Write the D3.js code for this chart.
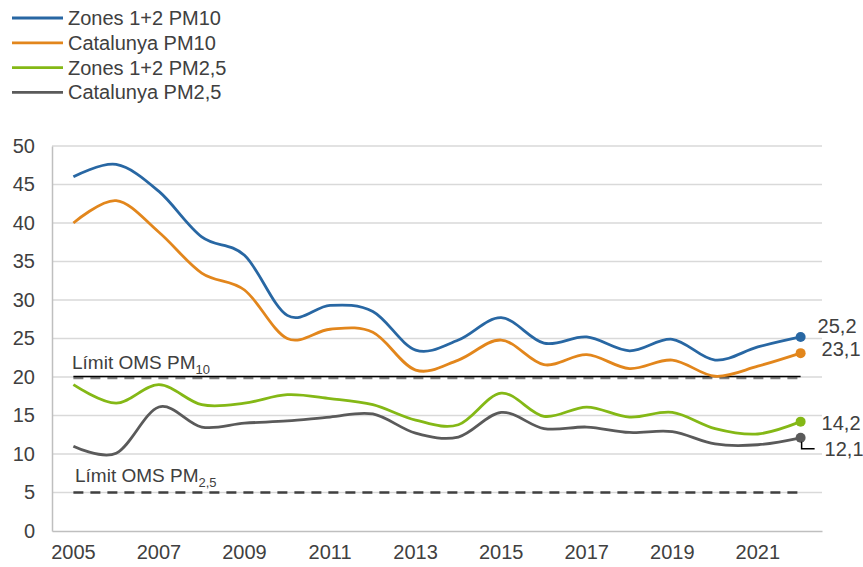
<!DOCTYPE html>
<html>
<head>
<meta charset="utf-8">
<script src="https://cdn.jsdelivr.net/npm/d3@7"></script>
<style>
  body { margin: 0; background: #fff; }
  svg text { font-family: "Liberation Sans", Arial, sans-serif; fill: #404040; }
</style>
</head>
<body>
<div id="chart"></div>
<script>
// Chart data
var years = d3.range(2005, 2023);
var tickYears = [2005, 2007, 2009, 2011, 2013, 2015, 2017, 2019, 2021];
var yTicks = [0, 5, 10, 15, 20, 25, 30, 35, 40, 45, 50];

var zonesPM10 = [46.0, 47.6, 44.1, 38.2, 35.8, 28.0, 29.3, 28.5, 23.5, 24.8, 27.7, 24.4, 25.2, 23.4, 24.9, 22.2, 23.9, 25.2];
var catPM10   = [40.0, 42.9, 38.8, 33.5, 31.3, 25.0, 26.2, 25.8, 20.9, 22.2, 24.8, 21.6, 22.9, 21.1, 22.2, 20.1, 21.4, 23.1];
var zonesPM25 = [19.0, 16.6, 19.0, 16.4, 16.6, 17.7, 17.2, 16.4, 14.4, 13.8, 17.9, 14.9, 16.1, 14.8, 15.4, 13.3, 12.6, 14.2];
var catPM25   = [11.0, 10.1, 16.1, 13.5, 14.0, 14.3, 14.8, 15.2, 12.7, 12.2, 15.4, 13.3, 13.5, 12.8, 12.9, 11.3, 11.2, 12.1];

var limitPM10 = 20;
var limitPM25 = 5;

var seriesNames = ["Zones 1+2 PM10", "Catalunya PM10", "Zones 1+2 PM2,5", "Catalunya PM2,5"];
var seriesValues = [zonesPM10, catPM10, zonesPM25, catPM25];
var colors = ["#2867a3", "#e2861c", "#84b816", "#5a5a5a"];

var svgWidth = 863;
var svgHeight = 567;
var margin = { top: 146, right: 41, bottom: 36, left: 52 };
var chartWidth = svgWidth - margin.left - margin.right;
var chartHeight = svgHeight - margin.top - margin.bottom;

var svg = d3.select("#chart")
  .append("svg")
  .attr("width", svgWidth)
  .attr("height", svgHeight);

var chartGroup = svg.append("g")
  .attr("transform", `translate(${margin.left}, ${margin.top})`);

// Category axis like Excel: points in middle of each band
var xScale = d3.scaleBand()
  .domain(years)
  .range([0, chartWidth]);
var xPos = function(yr) { return xScale(yr) + xScale.bandwidth() / 2; };

var yScale = d3.scaleLinear()
  .domain([0, 50])
  .range([chartHeight, 0]);

// gridlines
chartGroup.append("g")
  .selectAll("line")
  .data(yTicks.filter(d => d > 0))
  .enter()
  .append("line")
  .attr("x1", 0)
  .attr("x2", chartWidth)
  .attr("y1", d => yScale(d))
  .attr("y2", d => yScale(d))
  .attr("stroke", "#d9d9d9")
  .attr("stroke-width", 1.3);

// axes
var leftAxis = d3.axisLeft(yScale).tickValues(yTicks).tickSize(0).tickPadding(17);
var bottomAxis = d3.axisBottom(xScale).tickValues(tickYears).tickSize(0).tickPadding(14);

var yAxisG = chartGroup.append("g").call(leftAxis);
yAxisG.select(".domain").attr("stroke", "#bfbfbf").attr("stroke-width", 1.5);
yAxisG.selectAll("text").style("font-size", "20px").attr("fill", "#404040");

var xAxisG = chartGroup.append("g")
  .attr("transform", `translate(0, ${chartHeight})`)
  .call(bottomAxis);
xAxisG.select(".domain").attr("stroke", "#bfbfbf").attr("stroke-width", 1.5);
xAxisG.selectAll("text").style("font-size", "20px").attr("fill", "#404040");

// limit lines
var x0 = xPos(years[0]);
var x1 = xPos(years[years.length - 1]);

chartGroup.append("line")
  .attr("x1", x0).attr("x2", x1)
  .attr("y1", yScale(limitPM10) + 1).attr("y2", yScale(limitPM10) + 1)
  .attr("stroke", "#7f7f7f")
  .attr("stroke-width", 2.5)
  .attr("stroke-dasharray", "10,7");
chartGroup.append("line")
  .attr("x1", x0).attr("x2", x1)
  .attr("y1", yScale(limitPM10) - 0.5).attr("y2", yScale(limitPM10) - 0.5)
  .attr("stroke", "#000")
  .attr("stroke-width", 1.6);

chartGroup.append("line")
  .attr("x1", x0).attr("x2", x1)
  .attr("y1", yScale(limitPM25)).attr("y2", yScale(limitPM25))
  .attr("stroke", "#404040")
  .attr("stroke-width", 2.5)
  .attr("stroke-dasharray", "10,7");

// limit labels
var l10 = chartGroup.append("text")
  .attr("x", 20)
  .attr("y", yScale(limitPM10) - 8)
  .style("font-size", "19px")
  .text("Límit OMS PM");
l10.append("tspan").attr("dy", 5).style("font-size", "13px").text("10");

var l25 = chartGroup.append("text")
  .attr("x", 23)
  .attr("y", yScale(limitPM25) - 11)
  .style("font-size", "19px")
  .text("Límit OMS PM");
l25.append("tspan").attr("dy", 5).style("font-size", "13px").text("2,5");

// lines
var line = d3.line()
  .x((d, i) => xPos(years[i]))
  .y(d => yScale(d))
  .curve(d3.curveCatmullRom.alpha(0));

chartGroup.selectAll("path.series")
  .data(seriesValues)
  .enter()
  .append("path")
  .attr("class", "series")
  .attr("d", d => line(d))
  .attr("fill", "none")
  .attr("stroke", (d, i) => colors[i])
  .attr("stroke-width", 2.8)
  .attr("stroke-linejoin", "round");

// end markers
var lastIdx = years.length - 1;
chartGroup.selectAll("circle.end")
  .data(seriesValues)
  .enter()
  .append("circle")
  .attr("class", "end")
  .attr("cx", xPos(years[lastIdx]))
  .attr("cy", d => yScale(d[lastIdx]))
  .attr("r", 5)
  .attr("fill", (d, i) => colors[i]);

// end labels (offsets in pixels)
var labelOffsets = [[17, -11], [21, -4], [21, 1], [24, 11]];
chartGroup.selectAll("text.endlabel")
  .data(seriesValues)
  .enter()
  .append("text")
  .attr("class", "endlabel")
  .attr("x", (d, i) => xPos(years[lastIdx]) + labelOffsets[i][0])
  .attr("y", (d, i) => yScale(d[lastIdx]) + labelOffsets[i][1])
  .attr("dy", "0.35em")
  .style("font-size", "20px")
  .text(d => d3.format(".1f")(d[lastIdx]).replace(".", ","));

// leader line for the last label
var gx = xPos(years[lastIdx]);
var gy = yScale(catPM25[lastIdx]);
chartGroup.append("path")
  .attr("d", `M${gx + 1},${gy + 4} L${gx + 1},${gy + 11} L${gx + 14},${gy + 11}`)
  .attr("fill", "none")
  .attr("stroke", "#000")
  .attr("stroke-width", 1.5);

// legend
var legend = svg.append("g").attr("transform", "translate(12, 18)");
var legendItems = legend.selectAll("g")
  .data(seriesNames)
  .enter()
  .append("g")
  .attr("transform", (d, i) => `translate(0, ${i * 24.8})`);
legendItems.append("line")
  .attr("x1", 0).attr("x2", 51)
  .attr("y1", 0).attr("y2", 0)
  .attr("stroke", (d, i) => colors[i])
  .attr("stroke-width", 2.8);
legendItems.append("text")
  .attr("x", 56)
  .attr("y", 0)
  .attr("dy", "0.35em")
  .style("font-size", "20px")
  .text(d => d);
</script>
</body>
</html>
